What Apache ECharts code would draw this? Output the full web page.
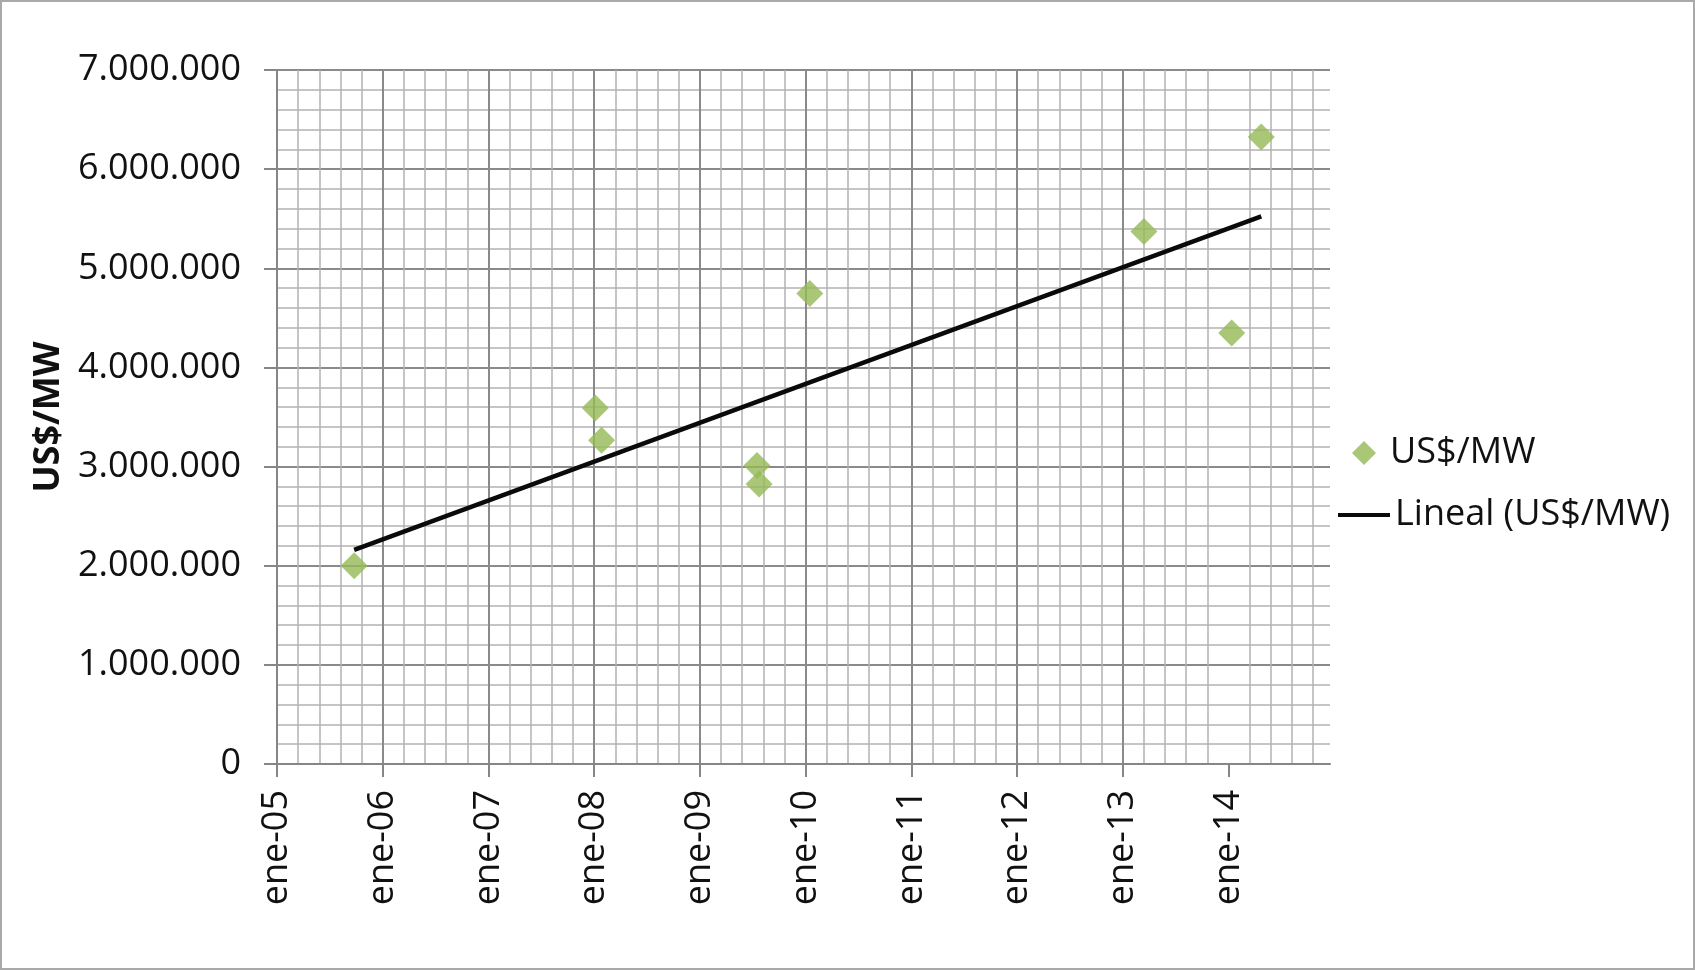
<!DOCTYPE html>
<html>
<head>
<meta charset="utf-8">
<title>US$/MW</title>
<script src="https://cdn.jsdelivr.net/npm/echarts@6/dist/echarts.min.js"></script>
<style>
  html, body { margin: 0; padding: 0; background: #ffffff; }
  #wrap { position: relative; width: 1695px; height: 970px; }
  #chart { position: absolute; left: 0; top: 0; width: 1695px; height: 970px; }
  #frame { position: absolute; left: 0; top: 0; width: 1695px; height: 970px;
           box-sizing: border-box; border: 2px solid #a9a9a9; pointer-events: none; }
</style>
</head>
<body>
<div id="wrap">
  <div id="chart"></div>
  <div id="frame"></div>
</div>
<script>
// Fechas como año decimal y costo por MW instalado
const fechas  = [2005.73, 2008.01, 2008.07, 2009.54, 2009.56, 2010.04, 2013.20, 2014.03, 2014.31];
const valores = [2000000, 3590000, 3265000, 3010000, 2825000, 4745000, 5372000, 4347000, 6324000];

// Marcas del eje X (enero de cada año)
const aniosEje    = [2005, 2006, 2007, 2008, 2009, 2010, 2011, 2012, 2013, 2014];
const etiquetasX  = ['ene-05', 'ene-06', 'ene-07', 'ene-08', 'ene-09', 'ene-10', 'ene-11', 'ene-12', 'ene-13', 'ene-14'];

const serieNombre = 'US$/MW';
const tendenciaNombre = 'Lineal (US$/MW)';

// Ajuste lineal por mínimos cuadrados
function ajusteLineal(xs, ys) {
  const n = xs.length;
  const mx = xs.reduce((a, b) => a + b, 0) / n;
  const my = ys.reduce((a, b) => a + b, 0) / n;
  let sxy = 0, sxx = 0;
  for (let i = 0; i < n; i++) {
    sxy += (xs[i] - mx) * (ys[i] - my);
    sxx += (xs[i] - mx) * (xs[i] - mx);
  }
  const b = sxy / sxx;
  const a = my - b * mx;
  const x0 = Math.min(...xs), x1 = Math.max(...xs);
  return [[x0, a + b * x0], [x1, a + b * x1]];
}

const puntos = fechas.map((f, i) => [f, valores[i]]);
const tendencia = ajusteLineal(fechas, valores);

const fmtMiles = v => String(Math.round(v)).replace(/\B(?=(\d{3})+(?!\d))/g, '.');

const FONT = '"Open Sans", "Noto Sans", sans-serif';
const TEXT = '#111111';
const AXIS = '#868686';
const VERDE = '#94b955';
const NEGRO = '#0a0a0a';

const chart = echarts.init(document.getElementById('chart'), null, { renderer: 'canvas' });

chart.setOption({
  backgroundColor: '#ffffff',
  animation: false,
  textStyle: { fontFamily: FONT, color: TEXT },
  grid: { left: 277, top: 70, width: 1053, height: 694, containLabel: false },
  legend: [
    {
      data: [{ name: serieNombre, icon: 'diamond' }],
      left: 1352, top: 435, padding: 0,
      itemWidth: 24, itemHeight: 24, itemGap: 5,
      textStyle: { fontFamily: FONT, fontSize: 36, color: TEXT, padding: [0, 0, 0, 9] }
    },
    {
      data: [{ name: tendenciaNombre, icon: 'rect' }],
      left: 1338, top: 497, padding: 0,
      itemWidth: 52, itemHeight: 4, itemGap: 5,
      itemStyle: { color: NEGRO, borderWidth: 0 },
      textStyle: { fontFamily: FONT, fontSize: 36, color: TEXT }
    }
  ],
  xAxis: {
    type: 'value',
    min: aniosEje[0],
    max: 2014.96,
    interval: 1,
    axisLine: { show: true, onZero: false, lineStyle: { color: AXIS, width: 2 } },
    axisTick: { show: true, inside: false, length: 13, customValues: aniosEje,
                lineStyle: { color: AXIS, width: 2 } },
    axisLabel: {
      customValues: aniosEje,
      rotate: 90, margin: 26,
      fontFamily: FONT, fontSize: 36, color: TEXT,
      formatter: v => {
        const i = aniosEje.indexOf(Math.round(v));
        return (i >= 0 && Math.abs(v - aniosEje[i]) < 1e-6) ? etiquetasX[i] : '';
      }
    },
    splitLine: { show: true, showMaxLine: false, lineStyle: { color: '#8a8a8a', width: 2 } },
    minorTick: { show: false, splitNumber: 5 },
    minorSplitLine: { show: true, lineStyle: { color: '#b2b2b2', width: 1.5 } }
  },
  yAxis: {
    type: 'value',
    min: 0, max: 7000000, interval: 1000000,
    name: serieNombre,
    nameLocation: 'middle',
    nameGap: 202,
    nameTextStyle: { fontFamily: FONT, fontSize: 36, fontWeight: 'bold', color: TEXT },
    axisLine: { show: true, lineStyle: { color: AXIS, width: 2 } },
    axisTick: { show: true, inside: false, length: 13, lineStyle: { color: AXIS, width: 2 } },
    axisLabel: { margin: 36, fontFamily: FONT, fontSize: 36, color: TEXT, formatter: fmtMiles },
    splitLine: { show: true, lineStyle: { color: '#8a8a8a', width: 2 } },
    minorTick: { show: false, splitNumber: 5 },
    minorSplitLine: { show: true, lineStyle: { color: '#b2b2b2', width: 1.5 } }
  },
  series: [
    {
      name: serieNombre,
      type: 'scatter',
      data: puntos,
      symbol: 'diamond',
      symbolSize: 27,
      itemStyle: { color: VERDE },
      z: 3
    },
    {
      name: tendenciaNombre,
      type: 'line',
      data: tendencia,
      symbol: 'none',
      showSymbol: false,
      lineStyle: { color: NEGRO, width: 4.5 },
      itemStyle: { color: NEGRO },
      z: 4
    }
  ]
});
</script>
</body>
</html>
